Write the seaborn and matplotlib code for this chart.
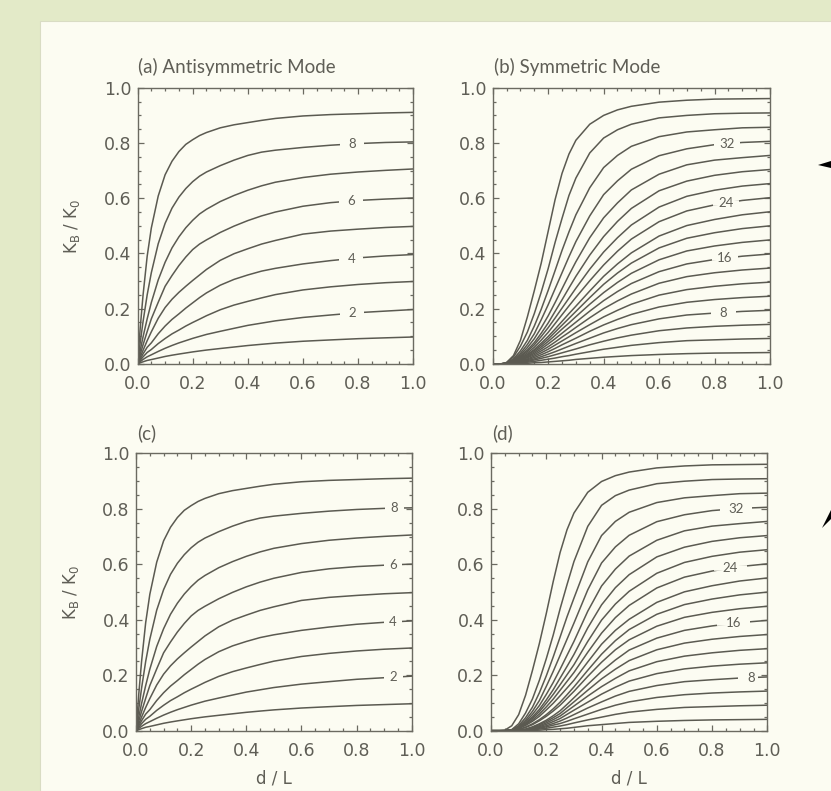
import numpy as np
import pandas as pd
import seaborn as sns
import matplotlib.pyplot as plt
from matplotlib.patches import Rectangle, Polygon
from matplotlib.ticker import MultipleLocator, FormatStrFormatter

# ---- data ----
# antisymmetric mode: curves for levels 1..9 (bottom to top)
x_anti = [0, .01, .02, .035, .05, .075, .1, .125, .15, .175, .2, .225, .25, .3, .35, .4, .45,
          .5, .6, .7, .8, .9, 1.0]
anti_levels = [1, 2, 3, 4, 5, 6, 7, 8, 9]
anti_a = [
    [0, .0038, .0075, .0124, .0155, .0211, .0268, .0314, .0355, .0394, .0433, .0467, .050, .0556, .061, .0664, .0709, .0752, .0819, .0867, .0912, .0943, .0973],
    [0, .0082, .016, .0256, .0328, .045, .0564, .0666, .0759, .0841, .0923, .0995, .1066, .1179, .1287, .1394, .1476, .1558, .1681, .177, .1855, .1912, .1968],
    [0, .0129, .0254, .0413, .052, .0734, .0918, .1086, .1224, .137, .1499, .162, .1744, .196, .213, .2264, .239, .2509, .2678, .279, .2876, .294, .2984],
    [0, .0185, .036, .060, .076, .109, .137, .161, .181, .202, .221, .240, .257, .285, .306, .322, .336, .346, .362, .374, .384, .391, .396],
    [0, .025, .049, .084, .116, .165, .204, .234, .259, .281, .302, .322, .342, .375, .399, .417, .434, .447, .470, .481, .488, .494, .498],
    [0, .035, .069, .117, .163, .223, .281, .320, .356, .387, .414, .434, .449, .476, .499, .519, .536, .550, .571, .584, .592, .597, .601],
    [0, .050, .098, .163, .222, .304, .368, .420, .460, .493, .520, .543, .560, .588, .610, .629, .645, .658, .675, .687, .695, .701, .706],
    [0, .079, .153, .250, .330, .435, .509, .564, .604, .635, .660, .680, .695, .718, .738, .755, .767, .774, .784, .792, .798, .802, .804],
    [0, .133, .249, .390, .492, .608, .685, .734, .769, .795, .812, .827, .838, .855, .866, .874, .882, .889, .898, .903, .906, .909, .911],
]
anti_c = [list(r) for r in anti_a]
anti_labels = [2, 4, 6, 8]

# symmetric mode: curves for levels 2..38 (bottom to top)
x_sym = [0, 0.03, 0.05, 0.075, 0.1, 0.125, 0.15, 0.175, 0.2, 0.225, 0.25, 0.275, 0.3,
         0.35, 0.4, 0.45, 0.5, 0.6, 0.7, 0.8, 0.9, 1.0]
sym_levels = list(range(2, 40, 2))
sym_b = [
    [0, 0, 0, 0, .001, .002, .004, .005, .007, .009, .011, .013, .016, .020, .024, .027, .030, .034, .037, .039, .040, .041],
    [0, 0, 0, .001, .003, .006, .009, .013, .017, .021, .026, .030, .035, .044, .053, .060, .067, .077, .084, .087, .090, .092],
    [0, 0, 0, .002, .005, .009, .014, .020, .026, .033, .040, .047, .054, .069, .082, .094, .104, .120, .130, .136, .140, .143],
    [0, 0, 0, .002, .007, .012, .018, .026, .035, .044, .054, .064, .074, .093, .112, .128, .142, .163, .177, .184, .190, .194],
    [0, 0, 0, .003, .009, .015, .023, .033, .044, .056, .069, .081, .093, .118, .141, .161, .179, .206, .223, .233, .240, .245],
    [0, 0, .001, .004, .010, .018, .028, .040, .053, .068, .083, .098, .113, .142, .170, .194, .216, .249, .269, .281, .290, .296],
    [0, 0, .001, .005, .012, .022, .033, .047, .062, .079, .097, .114, .132, .167, .200, .228, .253, .292, .316, .330, .340, .347],
    [0, 0, .001, .006, .014, .025, .038, .054, .072, .091, .111, .131, .151, .191, .229, .262, .291, .334, .362, .378, .390, .398],
    [0, 0, .001, .007, .016, .028, .043, .061, .081, .103, .126, .148, .171, .216, .258, .295, .328, .377, .409, .427, .440, .449],
    [0, 0, .001, .007, .018, .032, .048, .068, .090, .115, .140, .165, .190, .240, .288, .329, .365, .420, .455, .475, .490, .500],
    [0, 0, .001, .008, .019, .034, .052, .075, .099, .126, .154, .182, .209, .264, .317, .362, .402, .463, .501, .523, .540, .551],
    [0, 0, .001, .009, .022, .039, .060, .086, .114, .146, .178, .210, .241, .301, .358, .408, .452, .515, .554, .576, .592, .602],
    [0, 0, .001, .010, .025, .045, .069, .099, .131, .166, .202, .238, .274, .343, .405, .457, .503, .568, .607, .629, .644, .653],
    [0, 0, .001, .011, .028, .050, .077, .111, .148, .190, .232, .275, .317, .394, .461, .516, .563, .627, .662, .683, .696, .704],
    [0, 0, .002, .013, .032, .059, .091, .131, .174, .222, .272, .322, .370, .457, .529, .583, .630, .687, .721, .738, .747, .755],
    [0, 0, .002, .015, .038, .070, .109, .160, .214, .272, .330, .388, .443, .536, .613, .663, .705, .754, .779, .794, .802, .806],
    [0, 0, .003, .018, .047, .085, .137, .198, .266, .338, .411, .478, .540, .638, .711, .755, .788, .823, .840, .848, .855, .857],
    [0, 0, .004, .025, .064, .115, .182, .260, .345, .440, .527, .610, .673, .764, .818, .848, .868, .891, .900, .906, .908, .909],
    [0, 0, .005, .030, .085, .170, .265, .365, .480, .595, .690, .760, .810, .868, .900, .920, .933, .948, .955, .959, .960, .961],
]
# panel (d): the curves leave the axis further to the right
sym_d = [
    [0, 0, 0, 0, 0, 0, .001, .002, .004, .005, .007, .009, .012, .018, .022, .026, .030, .034, .037, .039, .040, .041],
    [0, 0, 0, 0, 0, .001, .003, .006, .009, .013, .017, .022, .028, .039, .049, .059, .067, .077, .084, .087, .090, .092],
    [0, 0, 0, 0, 0, .002, .005, .009, .014, .020, .026, .034, .043, .060, .077, .092, .104, .120, .130, .136, .140, .143],
    [0, 0, 0, 0, 0, .002, .007, .012, .018, .026, .035, .046, .058, .082, .104, .125, .142, .163, .177, .184, .190, .194],
    [0, 0, 0, 0, 0, .003, .009, .015, .023, .033, .044, .059, .074, .103, .132, .157, .179, .206, .223, .233, .240, .245],
    [0, 0, 0, 0, .001, .004, .010, .018, .028, .040, .053, .071, .089, .125, .159, .189, .216, .249, .269, .281, .290, .296],
    [0, 0, 0, 0, .001, .005, .012, .022, .033, .047, .062, .083, .104, .146, .187, .222, .253, .292, .316, .330, .340, .347],
    [0, 0, 0, 0, .001, .006, .014, .025, .038, .054, .072, .095, .119, .167, .214, .255, .291, .334, .362, .378, .390, .398],
    [0, 0, 0, .001, .004, .012, .022, .036, .052, .071, .092, .117, .142, .196, .247, .292, .328, .377, .409, .427, .440, .449],
    [0, 0, 0, .001, .004, .013, .025, .040, .058, .079, .103, .130, .158, .218, .276, .325, .365, .420, .455, .475, .490, .500],
    [0, 0, 0, .001, .008, .019, .034, .052, .075, .099, .126, .154, .182, .248, .312, .362, .402, .463, .501, .523, .540, .551],
    [0, 0, 0, .001, .009, .022, .039, .060, .086, .114, .146, .178, .210, .283, .352, .408, .452, .515, .554, .576, .592, .602],
    [0, 0, 0, .001, .010, .025, .045, .069, .099, .131, .166, .202, .238, .322, .399, .457, .503, .568, .607, .629, .644, .653],
    [0, 0, 0, .001, .011, .028, .050, .077, .111, .148, .190, .232, .275, .371, .454, .516, .563, .627, .662, .683, .696, .704],
    [0, 0, 0, .002, .013, .032, .059, .091, .131, .174, .222, .272, .322, .431, .522, .583, .630, .687, .721, .738, .747, .755],
    [0, 0, 0, .002, .015, .038, .070, .109, .160, .214, .272, .330, .388, .508, .605, .663, .705, .754, .779, .794, .802, .806],
    [0, 0, 0, .003, .018, .047, .085, .137, .198, .266, .338, .411, .478, .609, .704, .755, .788, .823, .840, .848, .855, .857],
    [0, 0, 0, .004, .025, .064, .115, .182, .260, .345, .440, .527, .610, .737, .813, .848, .868, .891, .900, .906, .908, .909],
    [0, 0, .002, .018, .058, .128, .218, .315, .423, .538, .643, .725, .785, .860, .899, .920, .933, .948, .955, .959, .960, .961],
]
sym_labels = [8, 16, 24, 32]

tick_vals = [0.0, 0.2, 0.4, 0.6, 0.8, 1.0]
titles = ["(a) Antisymmetric Mode", "(b) Symmetric Mode", "(c)", "(d)"]

# ---- style ----
GREEN = "#e3eac8"
CREAM = "#fcfcf2"
LINE = "#5b5a51"
AXC = "#6b6a61"
TXT = "#5f5e56"

sns.set_style("ticks")
plt.rcParams["font.family"] = ["DejaVu Sans"]

fig = plt.figure(figsize=(8.31, 7.91), dpi=100, facecolor=GREEN)
fig.patches.append(Rectangle((40 / 831, 0), 1, 1 - 21 / 791, transform=fig.transFigure,
                             facecolor=CREAM, edgecolor="#d9dcc4", lw=0.8, zorder=-10))
# cut-off black pointers at the right edge
fig.patches.append(Polygon([(818 / 831, 1 - 165 / 791), (1.0, 1 - 161 / 791), (1.0, 1 - 168 / 791)],
                           closed=True, transform=fig.transFigure, facecolor="black", edgecolor="none"))
fig.patches.append(Polygon([(822 / 831, 1 - 528 / 791), (1.0, 1 - 510 / 791), (1.0, 1 - 519 / 791)],
                           closed=True, transform=fig.transFigure, facecolor="black", edgecolor="none"))

positions = [
    [0.1655, 0.540, 0.3318, 0.349],
    [0.5929, 0.540, 0.3337, 0.349],
    [0.1637, 0.0762, 0.3318, 0.3505],
    [0.5909, 0.0762, 0.3325, 0.3505],
]

panels = [
    (x_anti, anti_a, anti_levels, anti_labels, [0.778, 0.775, 0.775, 0.778], (0.740, 0.826)),
    (x_sym, sym_b, sym_levels, sym_labels, [0.832, 0.838, 0.842, 0.844], (0.795, 0.888)),
    (x_anti, anti_c, anti_levels, anti_labels, [0.934, 0.932, 0.932, 0.937], (0.905, 0.972)),
    (x_sym, sym_d, sym_levels, sym_labels, [0.940, 0.877, 0.866, 0.886], (0.825, 0.943)),
]

for k, (xs, rows, levels, labs, lab_x, gap) in enumerate(panels):
    ax = fig.add_axes(positions[k], facecolor=CREAM)
    frames = [pd.DataFrame({"x": xs, "y": r, "level": lev}) for r, lev in zip(rows, levels)]
    df = pd.concat(frames, ignore_index=True)
    sns.lineplot(data=df, x="x", y="y", units="level", estimator=None, color=LINE,
                 lw=1.1, ax=ax, legend=False, sort=False)

    # inline contour labels
    for lab, lx in zip(labs, lab_x):
        row = rows[levels.index(lab)]
        ly = float(np.interp(lx, xs, row))
        half = (gap[1] - gap[0]) / 2
        if k == 3 and lab == 8:
            g0, g1 = 0.895, 0.967
        else:
            g0, g1 = lx - half, lx + half
        ax.plot([g0, g1], [ly, ly], color=CREAM, lw=4, solid_capstyle="butt", zorder=3)
        ax.text(lx, ly, str(lab), ha="center", va="center", fontsize=9.5, color=TXT,
                family=["Lato", "DejaVu Sans"], zorder=4)

    ax.set_xlim(0, 1)
    ax.set_ylim(0, 1)
    ax.set_xticks(tick_vals)
    ax.set_yticks(tick_vals)
    ax.xaxis.set_minor_locator(MultipleLocator(0.05))
    ax.yaxis.set_minor_locator(MultipleLocator(0.05))
    ax.xaxis.set_major_formatter(FormatStrFormatter("%.1f"))
    ax.yaxis.set_major_formatter(FormatStrFormatter("%.1f"))
    ax.tick_params(which="both", direction="in", top=True, right=True, color=AXC,
                   width=0.9, labelsize=12.5, labelcolor=TXT)
    ax.tick_params(which="major", length=4.3)
    ax.tick_params(which="minor", length=2.4)
    ax.tick_params(axis="x", pad=8)
    ax.tick_params(axis="y", pad=4.5)
    for sp in ax.spines.values():
        sp.set_color(AXC)
        sp.set_linewidth(1.0)

    ax.set_xlabel("")
    ax.set_ylabel("")
    if k in (0, 2):
        ax.set_ylabel(r"K$_{\rm B}$ / K$_{\rm 0}$", fontsize=12, color=TXT)
        ax.yaxis.set_label_coords(-0.2, 0.5)
    if k in (2, 3):
        ax.set_xlabel("d / L", fontsize=12, color=TXT, va="center")
        ax.xaxis.set_label_coords(0.5, -0.172)

    ax.text(0.003, 1.053, titles[k], transform=ax.transAxes, ha="left", va="baseline",
            fontsize=13.5, color=TXT, family=["Lato", "DejaVu Sans"])

fig.savefig("out.png", dpi=100, facecolor=GREEN)
